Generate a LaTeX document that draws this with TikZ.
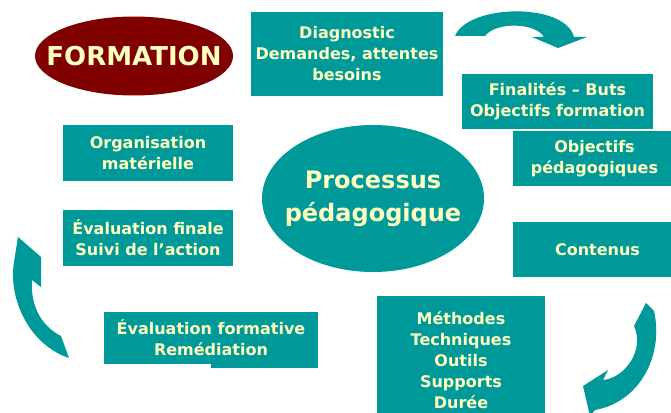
\documentclass[tikz,border=0pt]{standalone}
\usepackage{fontspec}
\setmainfont{DejaVu Sans}
\usetikzlibrary{shapes.geometric}
\definecolor{sarcelle}{HTML}{009999}
\definecolor{bordeaux}{HTML}{800000}
\definecolor{creme}{HTML}{FFFFC0}
\begin{document}
\begin{tikzpicture}[x=1pt, y=-1pt,
	etape/.style={fill=sarcelle, text=creme, align=center, inner sep=0pt,
		font=\fontsize{16}{21}\selectfont\bfseries},
	bulle/.style={ellipse, inner sep=0pt}]
	\useasboundingbox (0, 0) rectangle (671, 412);
	\clip (0, 0) rectangle (671, 412);
	\node (formation) at (134, 56) [bulle, fill=bordeaux, minimum width=198pt, minimum height=79pt] {};
	\node at (formation) [text=creme, font=\fontsize{26}{30}\selectfont\bfseries] {FORMATION};
	\node (processus) at (373, 198.5) [bulle, fill=sarcelle, minimum width=222pt, minimum height=147pt] {};
	\node at (processus) [text=creme, align=center, font=\fontsize{24}{33}\selectfont\bfseries] {Processus\\p\'edagogique};
	\node (diagnostic) at (347, 54) [etape, minimum width=192pt, minimum height=84pt] {Diagnostic\\Demandes, attentes\\besoins};
	\node (finalites) at (557.5, 101.5) [etape, minimum width=191pt, minimum height=55pt] {Finalit\'es -- Buts\\Objectifs formation};
	\node (objectifs) at (594.5, 158.5) [etape, minimum width=163pt, minimum height=55pt] {Objectifs\\p\'edagogiques};
	\node (contenus) at (597.5, 249.5) [etape, minimum width=169pt, minimum height=55pt] {Contenus};
	\node (methodes) at (461, 360) [etape, minimum width=168pt, minimum height=128pt] {M\'ethodes\\Techniques\\Outils\\Supports\\Dur\'ee};
	\fill[sarcelle] (211, 360) rectangle (318, 368);
	\node (formative) at (211, 338) [etape, minimum width=214pt, minimum height=52pt] {\'Evaluation formative\\Rem\'ediation};
	\node (finale) at (148, 238) [etape, minimum width=170pt, minimum height=56pt] {\'Evaluation finale\\Suivi de l'action};
	\node (organisation) at (148, 153) [etape, minimum width=170pt, minimum height=56pt] {Organisation\\mat\'erielle};
	\fill[sarcelle] (455, 36) .. controls (468, 4) and (565, 2) .. (574, 37) -- (587, 37) -- (558, 48) -- (532, 37)
		-- (544, 37) .. controls (535, 22) and (495, 22) .. (485, 36) -- cycle;
	\fill[sarcelle] (646, 303) -- (654, 311) .. controls (664, 355) and (640, 402) .. (595, 410) -- (590, 416)
		-- (583, 386) -- (608, 370) -- (603, 380) .. controls (625, 378) and (645, 350) .. (634, 326) -- cycle;
	\fill[sarcelle] (18, 237) -- (41, 257) -- (41, 287) -- (32, 280) .. controls (30, 310) and (45, 328) .. (61, 336)
		-- (69, 358) .. controls (30, 345) and (8, 300) .. (14, 262) -- cycle;
\end{tikzpicture}
\end{document}
